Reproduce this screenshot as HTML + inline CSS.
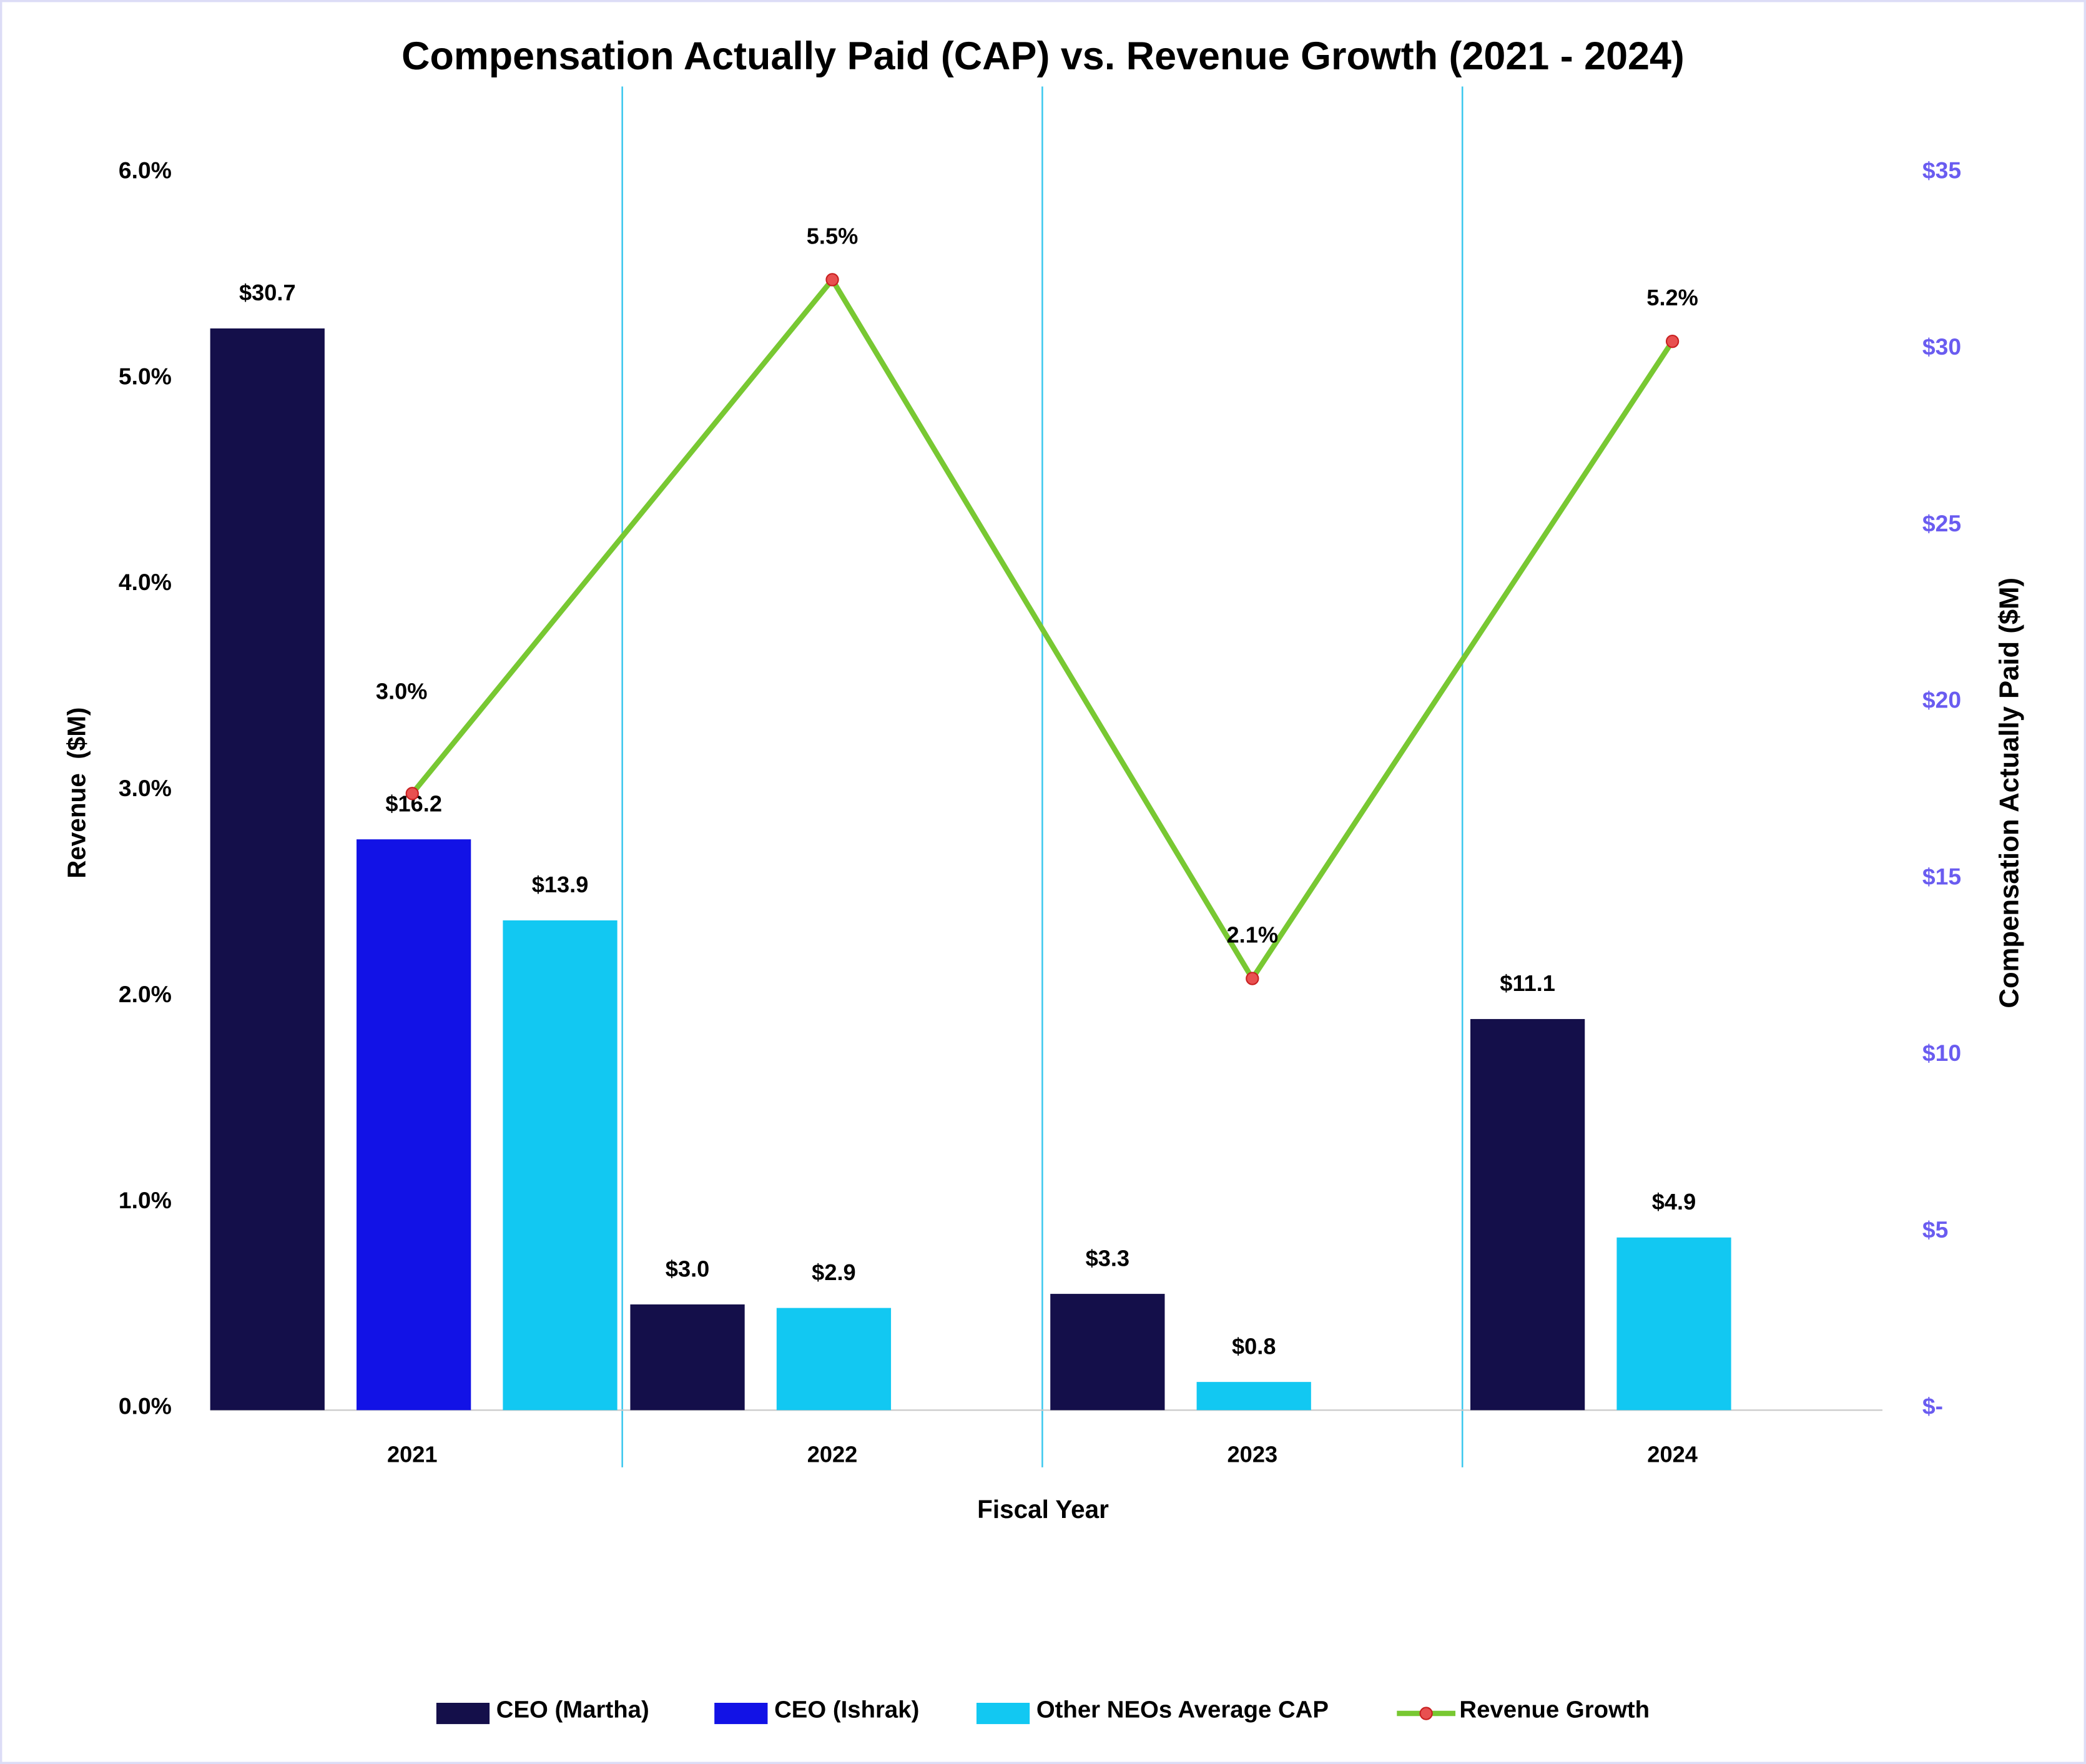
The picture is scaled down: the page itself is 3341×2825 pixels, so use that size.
<!DOCTYPE html>
<html><head><meta charset="utf-8"><style>
html,body{margin:0;padding:0;background:#fff;}
svg{display:block;font-family:"Liberation Sans",sans-serif;font-weight:bold;}
</style></head><body>
<svg id="chart" width="3341" height="2825" viewBox="0 0 1568 1326" preserveAspectRatio="none">
<rect x="0.8" y="0.8" width="1566.4" height="1324.4" fill="#fff" stroke="#dcdcf6" stroke-width="1.6"/>
<text x="784" y="52" text-anchor="middle" font-size="29.5" fill="#000">Compensation Actually Paid (CAP) vs. Revenue Growth (2021 - 2024)</text>
<g id="plot"></g>
<text transform="translate(64,596) rotate(-90)" text-anchor="middle" font-size="19" fill="#000">Revenue&#160;&#160;($M)</text>
<text transform="translate(1517,596) rotate(-90)" text-anchor="middle" font-size="20.5" fill="#000">Compensation Actually Paid ($M)</text>
<text x="784" y="1141" text-anchor="middle" font-size="19" fill="#000">Fiscal Year</text>
<g>
 <g><rect x="328" y="1280" width="40" height="16" fill="#140f4a"/><text x="373" y="1291" font-size="18">CEO (Martha)</text></g>
 <g><rect x="537" y="1280" width="40" height="16" fill="#1212e6"/><text x="582" y="1291" font-size="18">CEO (Ishrak)</text></g>
 <g><rect x="734" y="1280" width="40" height="16" fill="#12c8f2"/><text x="779" y="1291" font-size="18">Other NEOs Average CAP</text></g>
 <g><line x1="1050" y1="1288" x2="1094" y2="1288" stroke="#78c832" stroke-width="4"/><circle cx="1072" cy="1288" r="4.5" fill="#e85050" stroke="#c82020" stroke-width="1"/><text x="1097" y="1291" font-size="18">Revenue Growth</text></g>
</g>
</svg>
<script>
const years = ["2021","2022","2023","2024"];
const capMartha = [30.7, 3.0, 3.3, 11.1];
const capIshrak = [16.2, null, null, null];
const capOther = [13.9, 2.9, 0.8, 4.9];
const revenueGrowth = [3.0, 5.5, 2.1, 5.2];
const leftTicks = [0,1,2,3,4,5,6];
const rightTicks = [0,5,10,15,20,25,30,35];

const NS = "http://www.w3.org/2000/svg";
const plot = document.getElementById("plot");
const X0 = 152, X1 = 1415, Y0 = 1060, YT = 133;
const catW = (X1 - X0) / years.length;
const yL = v => Y0 - v / 6 * (Y0 - YT);
const yR = v => Y0 - v / 35 * (Y0 - YT);
const xC = i => X0 + catW * (i + 0.5);
function mk(tag, attrs, parent) {
  const e = document.createElementNS(NS, tag);
  for (const k in attrs) e.setAttribute(k, attrs[k]);
  (parent || plot).appendChild(e);
  return e;
}
function txt(x, y, s, anchor, size, fill) {
  const t = mk("text", {x: x, y: y, "text-anchor": anchor, "font-size": size, fill: fill});
  t.textContent = s;
  return t;
}
for (let i = 1; i < years.length; i++) {
  const l = mk("line", {x1: X0 + catW * i, y1: 65, x2: X0 + catW * i, y2: 1103, stroke: "#3cc8ee", "stroke-width": 1.2});
  
  
}
const base = mk("line", {x1: 158, y1: Y0, x2: X1, y2: Y0, stroke: "#c8c8c8", "stroke-width": 1});


leftTicks.forEach(v => {
  const t = txt(129, Y0 - v / 6 * (Y0 - 131) + 3, v.toFixed(1) + "%", "end", 17.5, "#000");
  
  
});
rightTicks.forEach(v => {
  const t = txt(1445, Y0 - v / 35 * (Y0 - 131) + 3, v === 0 ? "$-" : "$" + v, "start", 17.5, "#6a5cf0");
  
  
});
const series = [[capMartha, "#140f4a", "bar-ceo-martha"], [capIshrak, "#1212e6", "bar-ceo-ishrak"], [capOther, "#12c8f2", "bar-other-neos"]];
const barW = 86, slot = 110;
years.forEach((y, i) => {
  const t = txt(xC(i), 1099, y, "middle", 17, "#000");
  
  
  let k = 0;
  series.forEach(s => {
    const v = s[0][i];
    if (v == null) return;
    const bx = X0 + 6 + catW * i + k * slot;
    const r = mk("rect", {x: bx, y: yR(v), width: barW, height: Y0 - yR(v), fill: s[1]});
    
    
    const lb = txt(bx + barW / 2, yR(v) - 21, "$" + v.toFixed(1), "middle", 17, "#000");
    
    
    k++;
  });
});
const pts = revenueGrowth.map((v, i) => xC(i) + "," + yL(v)).join(" ");
const pl = mk("polyline", {points: pts, fill: "none", stroke: "#78c832", "stroke-width": 4, "stroke-linejoin": "round"});


revenueGrowth.forEach((v, i) => {
  const c = mk("circle", {cx: xC(i), cy: yL(v), r: 4.5, fill: "#e85050", stroke: "#c82020", "stroke-width": 1});
  
  
  const dy = i === 0 ? 71 : 27;
  const dx = i === 0 ? -8 : 0;
  const lb = txt(xC(i) + dx, yL(v) - dy, v.toFixed(1) + "%", "middle", 17, "#000");
  
  
});
</script>
</body></html>
